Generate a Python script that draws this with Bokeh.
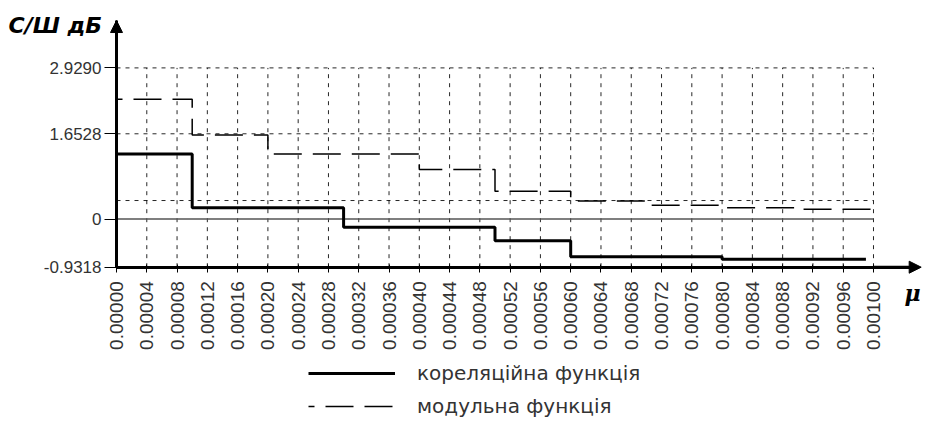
from bokeh.plotting import figure
from bokeh.models import Range1d, FixedTicker, Label, Arrow, NormalHead, Legend, LegendItem
from bokeh.embed import file_html
from bokeh.resources import INLINE

# ---- data ----
corr_x = [0.0, 0.0001, 0.0003, 0.0005, 0.0006, 0.0008, 0.00099]
corr_y = [1.26, 0.22, -0.16, -0.42, -0.73, -0.78, -0.78]

mod_x = [0.0, 0.0001, 0.0002, 0.0004, 0.0005, 0.0006, 0.0007, 0.0008, 0.0009, 0.001]
mod_y = [2.32, 1.63, 1.26, 0.96, 0.54, 0.35, 0.27, 0.22, 0.19, 0.19]

x_ticks = [0.0, 0.00004, 0.00008, 0.00012, 0.00016, 0.0002, 0.00024, 0.00028, 0.00032,
           0.00036, 0.0004, 0.00044, 0.00048, 0.00052, 0.00056, 0.0006, 0.00064,
           0.00068, 0.00072, 0.00076, 0.0008, 0.00084, 0.00088, 0.00092, 0.00096, 0.001]
x_tick_labels = ["0.00000", "0.00004", "0.00008", "0.00012", "0.00016", "0.00020",
                 "0.00024", "0.00028", "0.00032", "0.00036", "0.00040", "0.00044",
                 "0.00048", "0.00052", "0.00056", "0.00060", "0.00064", "0.00068",
                 "0.00072", "0.00076", "0.00080", "0.00084", "0.00088", "0.00092",
                 "0.00096", "0.00100"]

y_ticks = [-0.9318, 0.0, 1.6528, 2.9290]
y_tick_labels = ["-0.9318", "0", "1.6528", "2.9290"]
y_grid = [0.36, 1.6528, 2.9290]

y_title = "С/Ш дБ"
x_title = "μ"
series_names = ["кореляційна функція", "модульна функція"]

x_min, x_max = 0.0, 0.001
y_min, y_max = -0.9318, 2.9290

W, H = 925, 420

# ---- figure: frame fills the canvas, axes are pinned inside it ----
p = figure(width=W, height=H, output_backend="svg", toolbar_location=None,
           x_range=Range1d(-0.00015324, 0.0010687), y_range=Range1d(-3.9016, 4.2348),
           min_border_left=0, min_border_right=0, min_border_top=0, min_border_bottom=0)
p.outline_line_color = None
p.background_fill_color = "white"
p.xgrid.visible = False
p.ygrid.visible = False

TICK_COLOR = "#333333"

# x axis
xa = p.xaxis[0]
xa.fixed_location = y_min
xa.bounds = (x_min, 0.00106)
xa.ticker = FixedTicker(ticks=x_ticks)
xa.major_label_overrides = {t: l for t, l in zip(x_ticks, x_tick_labels)}
xa.major_label_orientation = 1.5708
xa.major_label_text_font = "Liberation Sans"
xa.major_label_text_font_size = "19px"
xa.major_label_text_color = TICK_COLOR
xa.major_label_standoff = 9
xa.major_tick_out = 5
xa.major_tick_in = 3
xa.minor_tick_out = 0
xa.minor_tick_in = 0
xa.axis_line_width = 3
xa.axis_line_color = "black"
xa.major_tick_line_color = "black"

# y axis
ya = p.yaxis[0]
ya.fixed_location = x_min
ya.bounds = (y_min, 3.84)
ya.ticker = FixedTicker(ticks=y_ticks)
ya.major_label_overrides = {t: l for t, l in zip(y_ticks, y_tick_labels)}
ya.major_label_text_font = "Liberation Sans"
ya.major_label_text_font_size = "17px"
ya.major_label_text_color = TICK_COLOR
ya.major_label_standoff = 3
ya.major_tick_out = 12
ya.major_tick_in = 0
ya.minor_tick_out = 0
ya.minor_tick_in = 0
ya.axis_line_width = 3
ya.axis_line_color = "black"
ya.major_tick_line_color = "black"

# dashed grid (only inside the data area)
vx = x_ticks[1:]
p.segment(x0=vx, y0=[y_min] * len(vx), x1=vx, y1=[y_max] * len(vx),
          line_color="black", line_width=1, line_dash="4 5", line_alpha=0.85)
p.segment(x0=[x_min] * len(y_grid), y0=y_grid, x1=[x_max] * len(y_grid), y1=y_grid,
          line_color="black", line_width=1, line_dash="4 5", line_alpha=0.85)

# zero line
p.segment(x0=[x_min], y0=[0.0], x1=[x_max], y1=[0.0], line_color="#555555", line_width=1.5)

# series
r_corr = p.step(corr_x, corr_y, mode="after", line_color="black", line_width=3)
r_mod = p.step(mod_x, mod_y, mode="after", line_color="black", line_width=1.5,
               line_dash="28 11", line_dash_offset=22)

# axis arrows
p.add_layout(Arrow(end=NormalHead(size=12, fill_color="black", line_color="black"),
                   x_start=0.0, y_start=3.4, x_end=0.0, y_end=3.847,
                   line_width=3, line_color="black"))
p.add_layout(Arrow(end=NormalHead(size=12, fill_color="black", line_color="black"),
                   x_start=0.001, y_start=y_min, x_end=0.001063, y_end=y_min,
                   line_width=3, line_color="black"))

# axis titles (screen units measured from the frame's bottom-left)
p.add_layout(Label(x=8, y=H - 25, x_units="screen", y_units="screen", text=y_title,
                   text_font="DejaVu Sans", text_font_style="bold italic",
                   text_font_size="22px", text_color="black",
                   text_baseline="middle", text_align="left"))
p.add_layout(Label(x=904, y=H - 292, x_units="screen", y_units="screen", text=x_title,
                   text_font="DejaVu Serif", text_font_style="bold italic",
                   text_font_size="22px", text_color="black",
                   text_baseline="middle", text_align="left"))

# legend below the axis
legend = Legend(items=[LegendItem(label=series_names[0], renderers=[r_corr]),
                       LegendItem(label=series_names[1], renderers=[r_mod])],
                location=(308, 2), orientation="vertical",
                glyph_width=87, glyph_height=18, label_height=18, spacing=9,
                label_standoff=22, padding=0, margin=0,
                border_line_color=None, background_fill_alpha=0,
                label_text_font="DejaVu Sans", label_text_font_size="20px",
                label_text_color="#333333")
p.add_layout(legend)

open("out.html", "w").write(file_html(p, INLINE))
